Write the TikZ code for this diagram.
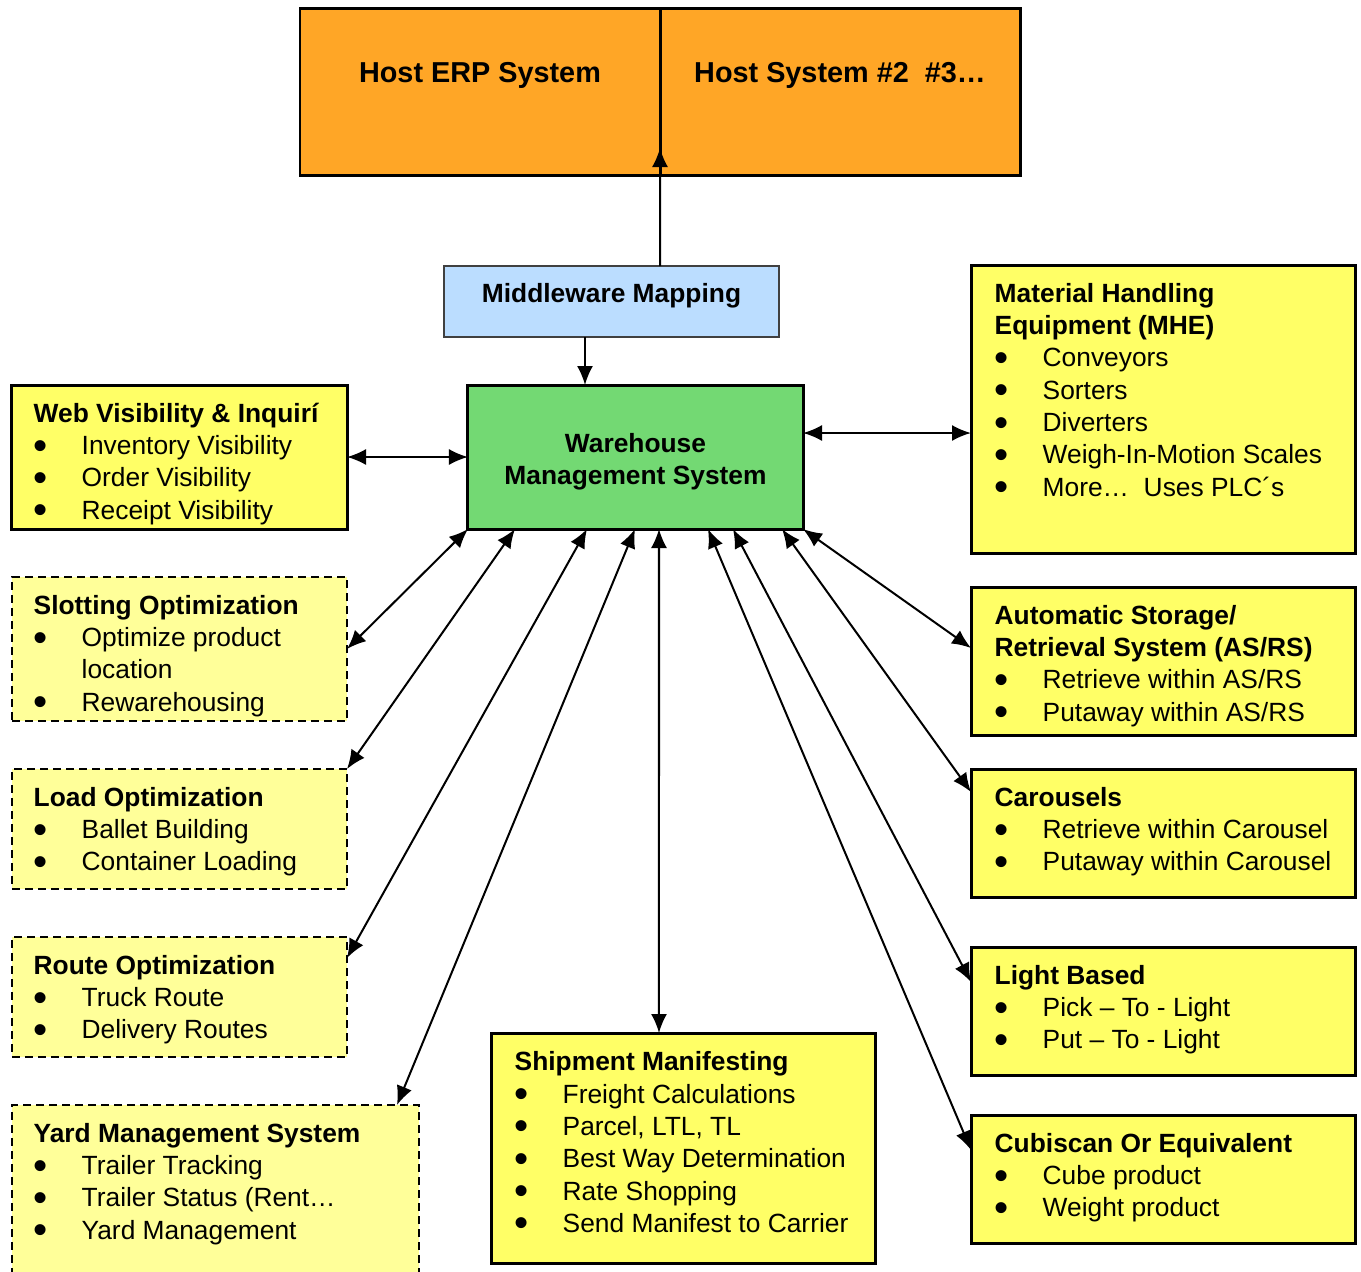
\documentclass[tikz,border=0pt]{standalone}
\usepackage{fontspec}
\setmainfont{Liberation Sans}
\usetikzlibrary{arrows.meta, positioning}

\definecolor{hostorange}{RGB}{255,166,38}
\definecolor{wmsgreen}{RGB}{115,217,115}
\definecolor{midblue}{RGB}{187,221,255}
\definecolor{boxyellow}{RGB}{255,255,102}
\definecolor{paleyellow}{RGB}{255,255,153}

% bullet line and first-line strut for the list boxes
\newcommand{\itm}[1]{\makebox[0.48cm][l]{\smash{\raisebox{-0.045cm}{\fontsize{11.5}{11.5}\selectfont\textbullet}}}#1}
\newcommand{\tstrut}{\rule{0pt}{0.26cm}}

\begin{document}
\begin{tikzpicture}[x=1cm, y=-1cm,
    frame/.style={draw, outer sep=0, inner sep=0, anchor=north west},
    hostbox/.style={frame, line width=0.03cm, fill=hostorange, minimum width=3.60cm, minimum height=1.67cm},
    solidbox/.style={frame, line width=0.03cm, fill=boxyellow},
    dashbox/.style={frame, line width=0.02cm, fill=paleyellow, dash pattern=on 0.08cm off 0.05cm},
    hosttxt/.style={inner sep=0, anchor=north, font=\fontsize{8.2}{10}\selectfont\bfseries},
    listtxt/.style={inner sep=0, anchor=north west, align=left, font=\fontsize{7.5}{9.2}\selectfont},
    link/.style={{Latex[length=0.19cm,width=0.16cm]}-{Latex[length=0.19cm,width=0.16cm]}, line width=0.02cm},
    feed/.style={-{Latex[length=0.19cm,width=0.16cm]}, line width=0.02cm}]

  \useasboundingbox (0,0) rectangle (13.61,12.72);

  % hosts
  \node[hostbox] (host1) at (3.00,0.08) {};
  \node[hostbox] (host2) at (6.60,0.08) {};
  \node[hosttxt, below=0.54cm of host1.north] (host1txt) {Host ERP System};
  \node[hosttxt, below=0.54cm of host2.north] (host2txt) {Host System \#2\ \ \#3…};

  % middleware and WMS
  \node[frame, fill=midblue, draw=black!75, line width=0.015cm,
        minimum width=3.35cm, minimum height=0.71cm,
        text height=0.19cm, text depth=0.17cm,
        font=\fontsize{7.5}{9}\selectfont\bfseries] (mid) at (4.44,2.66) {Middleware Mapping};
  \node[frame, fill=wmsgreen, line width=0.03cm,
        minimum width=3.35cm, minimum height=1.44cm, align=center,
        font=\fontsize{7.5}{9.1}\selectfont\bfseries] (wms) at (4.68,3.85) {\rule{0pt}{0.29cm}Warehouse\\Management System};

  % left column
  \node[solidbox, minimum width=3.35cm, minimum height=1.44cm] (web) at (0.12,3.85) {};
  \node[dashbox, minimum width=3.35cm, minimum height=1.44cm] (slot) at (0.12,5.77) {};
  \node[dashbox, minimum width=3.35cm, minimum height=1.20cm] (load) at (0.12,7.69) {};
  \node[dashbox, minimum width=3.35cm, minimum height=1.20cm] (route) at (0.12,9.37) {};
  \node[dashbox, minimum width=4.07cm, minimum height=1.80cm] (yard) at (0.12,11.05) {};

  \node[listtxt, below right=0.105cm and 0.21cm of web.north west] (webtxt)
    {\tstrut\textbf{Web Visibility \& Inquirí}\\
     \itm{Inventory Visibility}\\ \itm{Order Visibility}\\ \itm{Receipt Visibility}};
  \node[listtxt, below right=0.105cm and 0.21cm of slot.north west] (slottxt)
    {\tstrut\textbf{Slotting Optimization}\\
     \itm{Optimize product}\\ \hspace{0.48cm}location\\ \itm{Rewarehousing}};
  \node[listtxt, below right=0.105cm and 0.21cm of load.north west] (loadtxt)
    {\tstrut\textbf{Load Optimization}\\
     \itm{Ballet Building}\\ \itm{Container Loading}};
  \node[listtxt, below right=0.105cm and 0.21cm of route.north west] (routetxt)
    {\tstrut\textbf{Route Optimization}\\
     \itm{Truck Route}\\ \itm{Delivery Routes}};
  \node[listtxt, below right=0.105cm and 0.21cm of yard.north west] (yardtxt)
    {\tstrut\textbf{Yard Management System}\\
     \itm{Trailer Tracking}\\ \itm{Trailer Status (Rent…}\\ \itm{Yard Management}};

  % bottom middle
  \node[solidbox, minimum width=3.84cm, minimum height=2.30cm] (ship) at (4.91,10.33) {};
  \node[listtxt, below right=0.11cm and 0.23cm of ship.north west] (shiptxt)
    {\tstrut\textbf{Shipment Manifesting}\\
     \itm{Freight Calculations}\\ \itm{Parcel, LTL, TL}\\ \itm{Best Way Determination}\\
     \itm{Rate Shopping}\\ \itm{Send Manifest to Carrier}};

  % right column
  \node[solidbox, minimum width=3.84cm, minimum height=2.88cm] (mhe) at (9.71,2.65) {};
  \node[solidbox, minimum width=3.84cm, minimum height=1.48cm] (asrs) at (9.71,5.87) {};
  \node[solidbox, minimum width=3.84cm, minimum height=1.28cm] (car) at (9.71,7.69) {};
  \node[solidbox, minimum width=3.84cm, minimum height=1.28cm] (light) at (9.71,9.47) {};
  \node[solidbox, minimum width=3.84cm, minimum height=1.28cm] (cubi) at (9.71,11.15) {};

  \node[listtxt, below right=0.105cm and 0.23cm of mhe.north west] (mhetxt)
    {\tstrut\textbf{Material Handling}\\ \textbf{Equipment (MHE)}\\
     \itm{Conveyors}\\ \itm{Sorters}\\ \itm{Diverters}\\ \itm{Weigh-In-Motion Scales}\\
     \itm{More…\ \ Uses PLC´s}};
  \node[listtxt, below right=0.105cm and 0.23cm of asrs.north west] (asrstxt)
    {\tstrut\textbf{Automatic Storage/}\\ \textbf{Retrieval System (AS/RS)}\\
     \itm{Retrieve within AS/RS}\\ \itm{Putaway within AS/RS}};
  \node[listtxt, below right=0.105cm and 0.23cm of car.north west] (cartxt)
    {\tstrut\textbf{Carousels}\\
     \itm{Retrieve within Carousel}\\ \itm{Putaway within Carousel}};
  \node[listtxt, below right=0.105cm and 0.23cm of light.north west] (lighttxt)
    {\tstrut\textbf{Light Based}\\
     \itm{Pick – To - Light}\\ \itm{Put – To - Light}};
  \node[listtxt, below right=0.105cm and 0.23cm of cubi.north west] (cubitxt)
    {\tstrut\textbf{Cubiscan Or Equivalent}\\
     \itm{Cube product}\\ \itm{Weight product}};

  % connectors
  \draw[feed] ([xshift=0.485cm]mid.north) -- ([yshift=0.27cm]host1.south east);
  \draw[feed] ([xshift=-0.265cm]mid.south) -- ([xshift=-0.265cm]mid.south |- wms.north);
  \draw[link] (web.east) -- (wms.west);
  \draw[link] ([yshift=0.24cm]wms.east) -- ([yshift=0.24cm]wms.east -| mhe.west);

  \draw[link] (wms.south west) -- (slot.east);
  \draw[link] ([xshift=0.47cm]wms.south west) -- (load.north east);
  \draw[link] ([xshift=1.19cm]wms.south west) -- ([yshift=-0.21cm]route.north east);
  \draw[link] ([xshift=1.67cm]wms.south west) -- ([xshift=-0.22cm]yard.north east);
  \draw[link] ([xshift=1.91cm]wms.south west) -- ([xshift=1.68cm]ship.north west);
  \draw[link] ([xshift=2.40cm]wms.south west) -- ([yshift=-0.35cm]cubi.north west);
  \draw[link] ([xshift=2.65cm]wms.south west) -- ([yshift=-0.35cm]light.north west);
  \draw[link] ([xshift=3.14cm]wms.south west) -- ([yshift=-0.23cm]car.north west);
  \draw[link] (wms.south east) -- ([yshift=-0.61cm]asrs.north west);
\end{tikzpicture}
\end{document}
